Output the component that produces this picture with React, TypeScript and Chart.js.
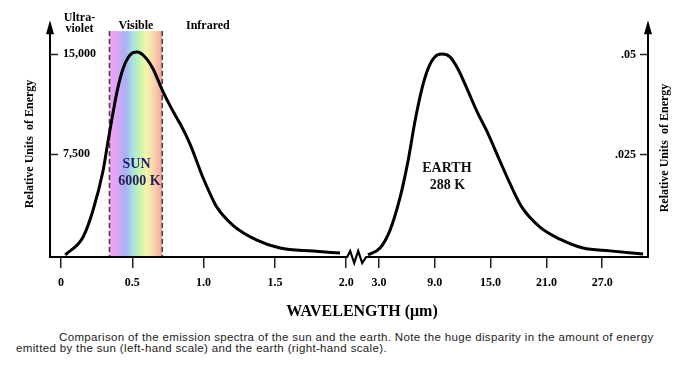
import React, { useEffect, useRef } from "react";
import { Chart, registerables } from "chart.js";

Chart.register(...registerables);

// ---- Data ----
// Sun emission spectrum (left-hand scale), wavelength in µm
const sunWavelengths = [0.03, 0.154, 0.224, 0.295, 0.33, 0.358, 0.393, 0.435, 0.484, 0.533, 0.589, 0.645, 0.715, 0.813, 0.834, 0.905, 0.996, 1.045, 1.094, 1.206, 1.374, 1.536, 1.767, 1.957];
const sunEnergy = [0, 1320, 3310, 6270, 8480, 10180, 12170, 13870, 14900, 15120, 14750, 13870, 12170, 10180, 9810, 8260, 5750, 4570, 3540, 2210, 1100, 510, 290, 140];

// Earth emission spectrum (right-hand scale), wavelength in µm
const earthWavelengths = [1.82, 3.11, 4.18, 5.26, 6.12, 6.87, 7.62, 8.27, 9.02, 9.77, 10.63, 11.49, 12.46, 13.54, 14.61, 16.01, 17.09, 18.38, 20.31, 22.46, 24.94, 27.84, 31.39];
const earthEnergy = [0, 0.0017, 0.0061, 0.0142, 0.0233, 0.0332, 0.0413, 0.0462, 0.0492, 0.0499, 0.0492, 0.0462, 0.0413, 0.0356, 0.0307, 0.0233, 0.0177, 0.0118, 0.0069, 0.0039, 0.0017, 0.001, 0.0002];

// Tick values / labels
const sunTicks = [0, 0.5, 1.0, 1.5, 2.0];
const sunTickLabels = ["0", "0.5", "1.0", "1.5", "2.0"];
const earthTicks = [3, 9, 15, 21, 27];
const earthTickLabels = ["3.0", "9.0", "15.0", "21.0", "27.0"];
const leftTicks = [7500, 15000];
const leftTickLabels = ["7,500", "15,000"];
const rightTicks = [0.025, 0.05];
const rightTickLabels = [".025", ".05"];

// Visible band (µm)
const visibleBand = [0.34, 0.71];

// ---- Broken-axis mapping (display units = left-section µm) ----
const BREAK_AT = 2.0;
const EARTH_ORIGIN_UM = 3.0;
const EARTH_ORIGIN_U = 2.23;
const EARTH_U_PER_UM = 9.3 / 142.6;
const toU = (um: number) => EARTH_ORIGIN_U + (um - EARTH_ORIGIN_UM) * EARTH_U_PER_UM;

const X_MIN = -0.0771;
const X_MAX = 4.1164;
const Y_MIN = -155;
const Y_MAX = 17490;
const Y1_MIN = -0.00052;
const Y1_MAX = 0.0583;
const VISIBLE_TOP = 16680;

const allTickValues = [...sunTicks, ...earthTicks.map(toU)];
const allTickLabels = [...sunTickLabels, ...earthTickLabels];

const SERIF = '"Liberation Serif", "DejaVu Serif", serif';

const decorPlugin = {
  id: "decor",
  beforeDatasetsDraw(chart: any) {
    const { ctx, chartArea, scales } = chart;
    const x = scales.x;
    const y = scales.y;
    const x0 = x.getPixelForValue(visibleBand[0]);
    const x1 = x.getPixelForValue(visibleBand[1]);
    const yTop = y.getPixelForValue(VISIBLE_TOP);
    const yBot = chartArea.bottom;
    ctx.save();
    const g = ctx.createLinearGradient(x0, 0, x1, 0);
    g.addColorStop(0, "#f6a2f2");
    g.addColorStop(0.14, "#dca6f6");
    g.addColorStop(0.3, "#aab0f4");
    g.addColorStop(0.44, "#a8e2e4");
    g.addColorStop(0.56, "#c2f4b2");
    g.addColorStop(0.7, "#f4f4aa");
    g.addColorStop(0.85, "#f8d2a8");
    g.addColorStop(1, "#f8a2a6");
    ctx.fillStyle = g;
    ctx.fillRect(x0, yTop, x1 - x0, yBot - yTop);
    ctx.strokeStyle = "#444";
    ctx.lineWidth = 1.6;
    ctx.setLineDash([5, 3]);
    ctx.beginPath();
    ctx.moveTo(x0, yTop);
    ctx.lineTo(x0, yBot);
    ctx.moveTo(x1, yTop);
    ctx.lineTo(x1, yBot);
    ctx.stroke();
    ctx.setLineDash([]);
    ctx.restore();
  },
  afterDatasetsDraw(chart: any) {
    const { ctx, chartArea, scales } = chart;
    const { left, right, top, bottom } = chartArea;
    const x = scales.x;
    const y = scales.y;
    const y1 = scales.y1;
    ctx.save();
    ctx.strokeStyle = "#000";
    ctx.fillStyle = "#000";

    // vertical axes with arrows
    ctx.lineWidth = 2;
    for (const ax of [left, right]) {
      ctx.beginPath();
      ctx.moveTo(ax, bottom + 1);
      ctx.lineTo(ax, top + 12);
      ctx.stroke();
      ctx.beginPath();
      ctx.moveTo(ax, top);
      ctx.lineTo(ax - 4, top + 14);
      ctx.lineTo(ax + 4, top + 14);
      ctx.closePath();
      ctx.fill();
    }

    // baseline with break
    const bx = x.getPixelForValue(BREAK_AT) + 1;
    ctx.lineWidth = 2.2;
    ctx.lineJoin = "miter";
    ctx.beginPath();
    ctx.moveTo(left, bottom);
    ctx.lineTo(bx, bottom);
    ctx.lineTo(bx + 3, bottom - 6);
    ctx.lineTo(bx + 7, bottom + 6);
    ctx.lineTo(bx + 11, bottom - 6);
    ctx.lineTo(bx + 15, bottom + 6);
    ctx.lineTo(bx + 19, bottom);
    ctx.lineTo(right, bottom);
    ctx.stroke();

    // y tick marks (inside)
    ctx.lineWidth = 1.5;
    ctx.strokeStyle = "#222";
    for (const v of leftTicks) {
      const py = Math.round(y.getPixelForValue(v)) + 0.5;
      ctx.beginPath();
      ctx.moveTo(left, py);
      ctx.lineTo(left + 8, py);
      ctx.stroke();
    }
    ctx.font = `bold 12px ${SERIF}`;
    ctx.textAlign = "right";
    ctx.textBaseline = "middle";
    rightTicks.forEach((v, i) => {
      const py = Math.round(y1.getPixelForValue(v)) + 0.5;
      ctx.strokeStyle = "#222";
      ctx.beginPath();
      ctx.moveTo(right - 8, py);
      ctx.lineTo(right, py);
      ctx.stroke();
      ctx.fillStyle = "#000";
      ctx.fillText(rightTickLabels[i], right - 12, py);
    });

    // Text annotations
    const txt = (s: string, px: number, py: number, size: number, color = "#000") => {
      ctx.font = `bold ${size}px ${SERIF}`;
      ctx.fillStyle = color;
      ctx.textAlign = "center";
      ctx.textBaseline = "alphabetic";
      ctx.fillText(s, px, py);
    };
    txt("Ultra-", x.getPixelForValue(0.13), 20.5, 12);
    txt("violet", x.getPixelForValue(0.13), 31.5, 12);
    const bandMid = (x.getPixelForValue(visibleBand[0]) + x.getPixelForValue(visibleBand[1])) / 2;
    txt("Visible", bandMid, 29, 12);
    txt("Infrared", x.getPixelForValue(1.03), 29, 12);

    txt("SUN", x.getPixelForValue(0.53), 168, 14, "#1e1f66");
    txt("6000 K", x.getPixelForValue(0.55), 185, 14, "#2c1d52");
    txt("EARTH", x.getPixelForValue(toU(10.3)), 171.5, 14, "#111");
    txt("288 K", x.getPixelForValue(toU(10.35)), 188.5, 14, "#111");

    // axis titles
    const vtitle = (s: string, cx: number, cy: number) => {
      ctx.save();
      ctx.translate(cx, cy);
      ctx.rotate(-Math.PI / 2);
      ctx.font = `bold 12px ${SERIF}`;
      ctx.fillStyle = "#000";
      ctx.textAlign = "center";
      ctx.textBaseline = "middle";
      ctx.fillText(s, 0, 0);
      ctx.restore();
    };
    vtitle("Relative Units  of Energy", left - 20, 144);
    vtitle("Relative Units  of Energy", right + 17, 148);

    txt("WAVELENGTH (\u03bcm)", (left + right) / 2 + 13, 316, 16);
    ctx.restore();
  },
};

export default function App() {
  const canvasRef = useRef<HTMLCanvasElement | null>(null);

  useEffect(() => {
    const canvas = canvasRef.current;
    if (!canvas) return;
    const tickFont = { family: SERIF, size: 12, weight: "bold" as const };
    const chart = new Chart(canvas, {
      type: "line",
      data: {
        datasets: [
          {
            label: "Sun",
            data: sunWavelengths.map((w, i) => ({ x: w, y: sunEnergy[i] })),
            yAxisID: "y",
            borderColor: "#000",
            borderWidth: 3,
            pointRadius: 0,
            cubicInterpolationMode: "monotone",
            fill: false,
          },
          {
            label: "Earth",
            data: earthWavelengths.map((w, i) => ({ x: toU(w), y: earthEnergy[i] })),
            yAxisID: "y1",
            borderColor: "#000",
            borderWidth: 3,
            pointRadius: 0,
            cubicInterpolationMode: "monotone",
            fill: false,
          },
        ],
      },
      options: {
        animation: false,
        responsive: false,
        devicePixelRatio: 1,
        layout: { padding: { left: 24, right: 52, top: 18, bottom: 31.6 } },
        plugins: { legend: { display: false }, tooltip: { enabled: false }, title: { display: false } },
        scales: {
          x: {
            type: "linear",
            min: X_MIN,
            max: X_MAX,
            afterBuildTicks: (scale: any) => {
              scale.ticks = allTickValues.map((v) => ({ value: v }));
            },
            ticks: {
              autoSkip: false,
              maxRotation: 0,
              minRotation: 0,
              padding: 8,
              color: "#000",
              font: tickFont,
              callback: (_v: any, i: number) => allTickLabels[i],
            },
            grid: { drawOnChartArea: false, drawTicks: true, tickLength: 11, color: "#222", lineWidth: 1.5 },
            border: { display: false },
          },
          y: {
            type: "linear",
            position: "left",
            min: Y_MIN,
            max: Y_MAX,
            afterBuildTicks: (scale: any) => {
              scale.ticks = leftTicks.map((v) => ({ value: v }));
            },
            ticks: {
              mirror: true,
              padding: 13,
              color: "#000",
              font: tickFont,
              callback: (_v: any, i: number) => leftTickLabels[i],
            },
            grid: { display: false, drawTicks: false, tickLength: 0 },
            border: { display: false },
          },
          y1: {
            type: "linear",
            position: "right",
            min: Y1_MIN,
            max: Y1_MAX,
            afterBuildTicks: (scale: any) => {
              scale.ticks = rightTicks.map((v) => ({ value: v }));
            },
            ticks: { display: false },
            grid: { display: false, drawTicks: false, tickLength: 0 },
            border: { display: false },
          },
        },
      },
      plugins: [decorPlugin],
    });
    return () => chart.destroy();
  }, []);

  const captionStyle: React.CSSProperties = {
    position: "absolute",
    fontFamily: '"Liberation Sans", Arial, sans-serif',
    fontSize: "11.5px",
    letterSpacing: "0.35px",
    lineHeight: "12px",
    color: "#222",
    whiteSpace: "nowrap",
    margin: 0,
  };

  return (
    <div style={{ position: "absolute", left: 0, top: 0, width: 700, height: 385, background: "#fff", overflow: "hidden" }}>
      <canvas ref={canvasRef} width={700} height={330} style={{ display: "block", width: 700, height: 330 }} />
      <div style={{ ...captionStyle, left: 59, top: 331 }}>
        Comparison of the emission spectra of the sun and the earth. Note the huge disparity in the amount of energy
      </div>
      <div style={{ ...captionStyle, left: 16, top: 342 }}>
        emitted by the sun (left-hand scale) and the earth (right-hand scale).
      </div>
    </div>
  );
}
